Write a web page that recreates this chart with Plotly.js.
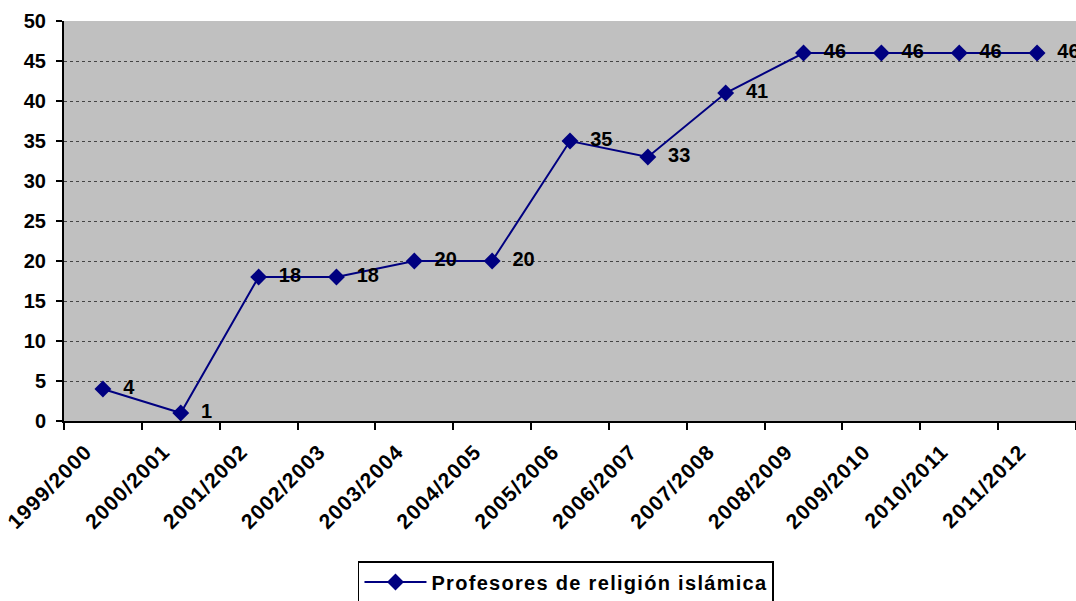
<!DOCTYPE html>
<html><head><meta charset="utf-8">
<script src="https://cdn.plot.ly/plotly-3.0.1.min.js"></script>
<style>html,body{margin:0;padding:0;background:#fff}#c{width:1076px;height:601px}
.xtick text{letter-spacing:1.1px}
.legendtext{letter-spacing:1.3px}
</style>
</head><body><div id="c"></div>
<script>
const categories = ["1999/2000","2000/2001","2001/2002","2002/2003","2003/2004","2004/2005","2005/2006","2006/2007","2007/2008","2008/2009","2009/2010","2010/2011","2011/2012"];
const values = [4,1,18,18,20,20,35,33,41,46,46,46,46];
const seriesName = "Profesores de religión islámica";
const yTicks = [0,5,10,15,20,25,30,35,40,45,50];

const fam = "Liberation Sans, Arial, sans-serif";
const font = {family:fam, size:20, color:"#000", weight:"bold"};
const trace = {
  x: categories, y: values, type:"scatter", mode:"lines+markers+text",
  name: seriesName,
  text: values.map(v=>"  "+v), textposition:"middle right",
  textfont: font,
  line:{color:"#000080", width:2},
  marker:{symbol:"diamond", size:13, color:"#000080"},
  cliponaxis:false
};
const layout = {
  width:1076, height:601,
  margin:{l:64, r:0, t:21, b:180, autoexpand:false},
  paper_bgcolor:"#fff", plot_bgcolor:"#C0C0C0",
  font: font,
  showlegend:true,
  legend:{x:0.526, xanchor:"center", xref:"container", y:1-561/601, yanchor:"top", yref:"container",
          orientation:"h",
          bordercolor:"#000", borderwidth:1.5, bgcolor:"#fff", itemwidth:62,
          font:{family:fam, size:20, color:"#000", weight:"bold"}},
  xaxis:{type:"category", range:[-0.5,12.5], tickson:"boundaries", ticks:"outside", ticklen:7,
         tickcolor:"#000", tickwidth:2, showline:true, linecolor:"#000", linewidth:2, automargin:false,
         showgrid:false, tickangle:-45, ticklabelshift:-17, ticklabelstandoff:8,
         tickfont:{family:fam, size:21, color:"#000", weight:"bold"}},
  yaxis:{range:[0,50], tickvals:yTicks, ticks:"outside", ticklen:6, tickcolor:"#000", tickwidth:2,
         showline:true, linecolor:"#000", linewidth:2, showgrid:true, gridcolor:"#444", automargin:false,
         griddash:"dot", gridwidth:1, zeroline:false, ticklabelstandoff:6,
         tickfont:{family:fam, size:20, color:"#000", weight:"bold"}},
};
Plotly.newPlot("c",[trace],layout,{displayModeBar:false, staticPlot:true});
</script></body></html>
